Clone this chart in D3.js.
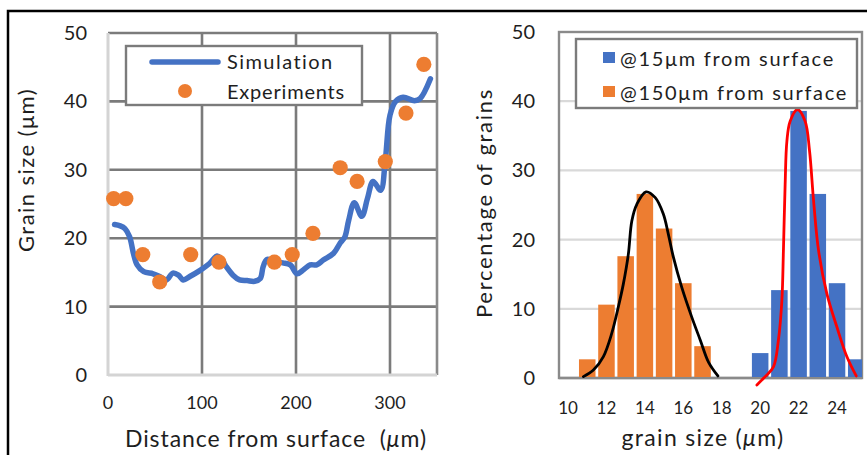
<!DOCTYPE html>
<html><head><meta charset="utf-8">
<script src="https://cdn.jsdelivr.net/npm/d3@7"></script>
<style>body{margin:0;background:#fff}svg{display:block}text{font-family:Lato,"Open Sans",sans-serif;fill:#1e1e1e}</style>
</head><body>
<script>
// ---------- data ----------
const simX = [7,13,18,23,27,31,38,48,55,62,69,75,80,87,98,108,116,121,126,133,140,148,156,162,165,169,177,186,194,201,208,215,222,229,240,247,252,256,262,270,276,282,290,295,300,306,314,326,332,343];
const simY = [22.0,21.8,21.4,20.2,17.8,16.1,15.1,14.8,14.4,13.9,14.9,14.6,13.9,14.4,15.3,16.3,17.4,16.9,15.8,14.6,13.9,13.8,13.7,14.1,15.8,16.9,16.6,16.4,16.1,14.8,15.4,16.1,16.1,16.8,17.8,19.3,20.2,22.6,25.2,23.2,25.8,28.3,27.0,31.4,38.0,40.0,40.6,40.1,40.4,43.3];
const expX = [6,19,37,55,88,118,177,196,218,247,265,295,317,336];
const expY = [25.8,25.8,17.6,13.6,17.6,16.5,16.5,17.6,20.7,30.3,28.3,31.2,38.3,45.4];
const leftXTicks = [0,100,200,300];
const leftYTicks = [0,10,20,30,40,50];

const bins150 = [11,12,13,14,15,16,17];
const pct150 = [2.7,10.6,17.6,26.6,21.6,13.7,4.6];
const bins15 = [20,21,22,23,24,25];
const pct15 = [3.6,12.7,38.6,26.6,13.7,2.7];
const fit150X = [10.80,11.32,11.84,12.27,12.62,12.88,13.14,13.32,13.58,14.06,14.53,14.96,15.22,15.48,15.92,16.44,16.88,17.31,17.80];
const fit150Y = [0.2,1.15,3.1,6.4,10.3,13.6,17.9,22.7,25.1,26.9,26.1,23.7,20.8,17.5,13.1,8.8,5.5,2.3,0.3];
const fit15X = [19.83,20.26,20.69,20.95,21.13,21.21,21.30,21.39,21.56,21.94,22.34,22.57,22.78,23.04,23.47,23.99,24.51,25.0];
const fit15Y = [-1.0,0.2,1.6,5.5,11.2,18.4,28.0,34.2,37.1,38.8,37.1,32.8,25.6,18.4,12.2,7.4,3.1,0.3];
const rightXTicks = [10,12,14,16,18,20,22,24];
const rightYTicks = [0,10,20,30,40,50];

const BLUE = "#4472C4", ORANGE = "#ED7D31";

const svg = d3.select("body").append("svg").attr("width",867).attr("height",455);
svg.append("rect").attr("width",867).attr("height",455).attr("fill","#fff");

function fitLS(sel, w){
  const n = sel.node(); const cur = n.getComputedTextLength();
  const k = n.getNumberOfChars();
  sel.attr("letter-spacing", ((w-cur)/k).toFixed(2));
}
function mu(sel, before, after, italic){
  sel.append("tspan").text(before);
  const t = sel.append("tspan").text("μ"); if(italic) t.attr("font-style","italic");
  sel.append("tspan").text(after);
}

svg.append("path").attr("d","M8,455V11H867").attr("fill","none").attr("stroke","#000").attr("stroke-width",2.5);

// ---------- left chart ----------
const xL = d3.scaleLinear([0,350],[108,437]);
const yL = d3.scaleLinear([0,50],[375,33]);
const gL = svg.append("g");
gL.selectAll(".hg").data(leftYTicks.filter(d=>d>0)).join("line")
  .attr("x1",xL(0)).attr("x2",xL(350)).attr("y1",d=>yL(d)).attr("y2",d=>yL(d))
  .attr("stroke","#7b7b7b").attr("stroke-width",2.6);
gL.selectAll(".vg").data(leftXTicks.filter(d=>d>0)).join("line")
  .attr("x1",d=>xL(d)).attr("x2",d=>xL(d)).attr("y1",yL(0)).attr("y2",yL(50))
  .attr("stroke","#7b7b7b").attr("stroke-width",2.6);
gL.append("line").attr("x1",xL(350)).attr("x2",xL(350)).attr("y1",yL(0)).attr("y2",yL(50)).attr("stroke","#8a8a8a").attr("stroke-width",2.6);
gL.append("line").attr("x1",xL(0)).attr("x2",xL(0)).attr("y1",yL(0)+1).attr("y2",yL(50)).attr("stroke","#d4d4d4").attr("stroke-width",3);
gL.append("line").attr("x1",xL(0)).attr("x2",xL(350)).attr("y1",yL(0)).attr("y2",yL(0)).attr("stroke","#d4d4d4").attr("stroke-width",3);
gL.selectAll(".yt").data(leftYTicks).join("text").attr("x",87).attr("y",d=>yL(d)).attr("dy","0.35em")
  .attr("text-anchor","end").attr("font-size",20).text(d=>d);
gL.selectAll(".xt").data(leftXTicks).join("text").attr("x",d=>xL(d)).attr("y",403).attr("dy","0.35em")
  .attr("text-anchor","middle").attr("font-size",18).text(d=>d);
gL.append("rect").attr("x",126).attr("y",46).attr("width",236).attr("height",59).attr("fill","#fff").attr("stroke","#7b7b7b").attr("stroke-width",2.4);
const line = d3.line().x((d,i)=>xL(simX[i])).y((d,i)=>yL(simY[i])).curve(d3.curveCatmullRom.alpha(0.5));
gL.append("path").attr("d",line(simX)).attr("fill","none").attr("stroke",BLUE).attr("stroke-width",5.5).attr("stroke-linecap","round").attr("stroke-linejoin","round");
gL.selectAll(".dot").data(expX).join("circle").attr("cx",d=>xL(d)).attr("cy",(d,i)=>yL(expY[i])).attr("r",7.6).attr("fill",ORANGE);
gL.append("line").attr("x1",152).attr("x2",218).attr("y1",62).attr("y2",62).attr("stroke",BLUE).attr("stroke-width",5.5).attr("stroke-linecap","round");
gL.append("circle").attr("cx",185).attr("cy",91).attr("r",7).attr("fill",ORANGE);
fitLS(gL.append("text").attr("x",227).attr("y",62).attr("dy","0.35em").attr("font-size",20).text("Simulation"),107);
fitLS(gL.append("text").attr("x",227).attr("y",92).attr("dy","0.35em").attr("font-size",20).text("Experiments"),118);
const tyL = gL.append("text").attr("transform","translate(26,170) rotate(-90)").attr("text-anchor","middle").attr("dy","0.35em").attr("font-size",22);
mu(tyL,"Grain size (","m)",false); fitLS(tyL,164);
const txL = gL.append("text").attr("x",276).attr("y",447).attr("text-anchor","middle").attr("font-size",23);
mu(txL,"Distance from surface\u00a0 (","m)",true); fitLS(txL,302);

// ---------- right chart ----------
const xR = d3.scaleLinear([9.53,25.3],[559,862]);
const yR = d3.scaleLinear([0,50],[378,32]);
const gR = svg.append("g");
gR.selectAll(".hg").data(rightYTicks.filter(d=>d>0&&d<50)).join("line")
  .attr("x1",559).attr("x2",862).attr("y1",d=>yR(d)).attr("y2",d=>yR(d))
  .attr("stroke","#d9d9d9").attr("stroke-width",2.2);
gR.append("line").attr("x1",559).attr("x2",862).attr("y1",yR(0)).attr("y2",yR(0)).attr("stroke","#cfcfcf").attr("stroke-width",3);
gR.append("rect").attr("x",559).attr("y",yR(50)).attr("width",303).attr("height",yR(0)-yR(50)).attr("fill","none").attr("stroke","#8a8a8a").attr("stroke-width",2.4);
const bw = 0.86;
gR.selectAll(".b150").data(bins150).join("rect").attr("x",d=>xR(d-bw/2)).attr("width",xR(bw)-xR(0))
  .attr("y",(d,i)=>yR(pct150[i])).attr("height",(d,i)=>yR(0)-yR(pct150[i])-1).attr("fill",ORANGE);
gR.selectAll(".b15").data(bins15).join("rect").attr("x",d=>xR(d-bw/2)).attr("width",d=>Math.min(xR(bw)-xR(0), 862-xR(d-bw/2)))
  .attr("y",(d,i)=>yR(pct15[i])).attr("height",(d,i)=>yR(0)-yR(pct15[i])-1).attr("fill",BLUE);
const lineB = d3.line().x((d,i)=>xR(fit150X[i])).y((d,i)=>yR(fit150Y[i])).curve(d3.curveCatmullRom.alpha(0.5));
const lineR = d3.line().x((d,i)=>xR(fit15X[i])).y((d,i)=>yR(fit15Y[i])).curve(d3.curveCatmullRom.alpha(0.5));
gR.append("path").attr("d",lineB(fit150X)).attr("fill","none").attr("stroke","#000").attr("stroke-width",2.8).attr("stroke-linecap","round");
gR.append("path").attr("d",lineR(fit15X)).attr("fill","none").attr("stroke","#ff0000").attr("stroke-width",2.8).attr("stroke-linecap","round");
gR.selectAll(".yt").data(rightYTicks).join("text").attr("x",535).attr("y",d=>yR(d)).attr("dy","0.35em")
  .attr("text-anchor","end").attr("font-size",20).text(d=>d);
gR.selectAll(".xt").data(rightXTicks).join("text").attr("x",d=>xR(d)).attr("y",408).attr("dy","0.35em")
  .attr("text-anchor","middle").attr("font-size",17).text(d=>d);
gR.append("rect").attr("x",576).attr("y",39).attr("width",281).attr("height",69).attr("fill","#fff").attr("stroke","#7b7b7b").attr("stroke-width",2.4);
gR.append("rect").attr("x",603).attr("y",52).attr("width",12).attr("height",11).attr("fill",BLUE);
gR.append("rect").attr("x",603).attr("y",86).attr("width",12).attr("height",11).attr("fill",ORANGE);
const l1 = gR.append("text").attr("x",620).attr("y",59).attr("dy","0.35em").attr("font-size",20); mu(l1,"@15","m from surface",false); fitLS(l1,215);
const l2 = gR.append("text").attr("x",620).attr("y",93).attr("dy","0.35em").attr("font-size",20); mu(l2,"@150","m from surface",false); fitLS(l2,228);
const tyR = gR.append("text").attr("transform","translate(484,203) rotate(-90)").attr("text-anchor","middle").attr("dy","0.35em").attr("font-size",22).text("Percentage of grains");
fitLS(tyR,230);
const txR = gR.append("text").attr("x",703).attr("y",446).attr("text-anchor","middle").attr("font-size",23);
mu(txR,"grain size (","m)",true); fitLS(txR,163);
</script>
</body></html>
